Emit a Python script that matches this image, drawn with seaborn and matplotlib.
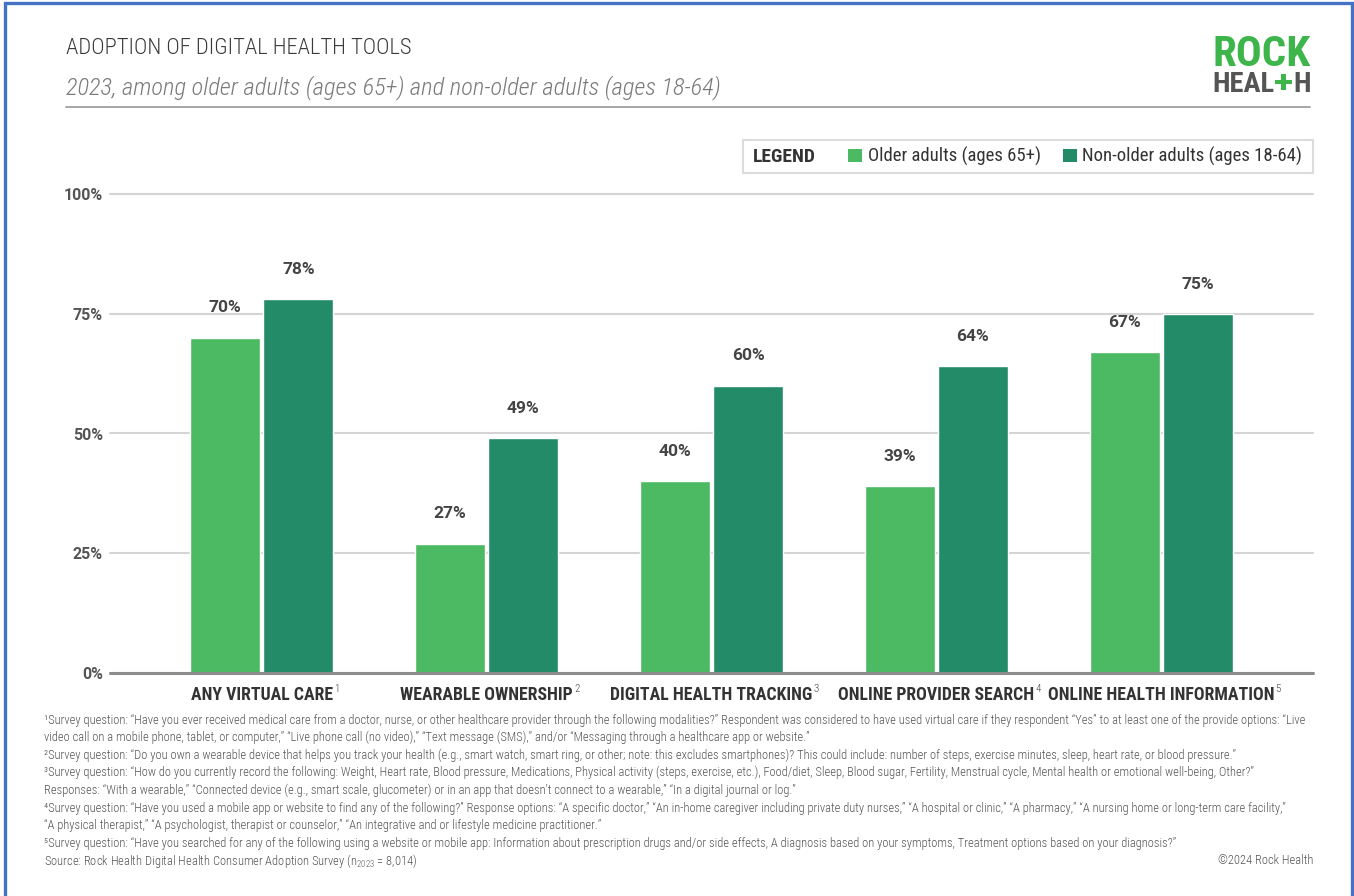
import matplotlib
matplotlib.use("Agg")
import matplotlib.pyplot as plt
import pandas as pd
import seaborn as sns
from matplotlib.patches import Patch, Rectangle
from matplotlib.lines import Line2D

# ---- data -------------------------------------------------------------
categories = [
    "ANY VIRTUAL CARE",
    "WEARABLE OWNERSHIP",
    "DIGITAL HEALTH TRACKING",
    "ONLINE PROVIDER SEARCH",
    "ONLINE HEALTH INFORMATION",
]
note_marks = ["1", "2", "3", "4", "5"]
groups = ["Older adults (ages 65+)", "Non-older adults (ages 18-64)"]
older = [70, 27, 40, 39, 67]
non_older = [78, 49, 60, 64, 75]
yticks = [0, 25, 50, 75, 100]
ytick_labels = ["0%", "25%", "50%", "75%", "100%"]

title = "ADOPTION OF DIGITAL HEALTH TOOLS"
subtitle = "2023, among older adults (ages 65+) and non-older adults (ages 18-64)"
footnotes = [
    "\u00b9Survey question: \u201cHave you ever received medical care from a doctor, nurse, or other healthcare provider through the following modalities?\u201d Respondent was considered to have used virtual care if they respondent \u201cYes\u201d to at least one of the provide options: \u201cLive",
    "video call on a mobile phone, tablet, or computer,\u201d \u201cLive phone call (no video),\u201d \u201cText message (SMS),\u201d and/or \u201cMessaging through a healthcare app or website.\u201d",
    "\u00b2Survey question: \u201cDo you own a wearable device that helps you track your health (e.g., smart watch, smart ring, or other; note: this excludes smartphones)? This could include: number of steps, exercise minutes, sleep, heart rate, or blood pressure.\u201d",
    "\u00b3Survey question: \u201cHow do you currently record the following: Weight, Heart rate, Blood pressure, Medications, Physical activity (steps, exercise, etc.), Food/diet, Sleep, Blood sugar, Fertility, Menstrual cycle, Mental health or emotional well-being, Other?\u201d",
    "Responses: \u201cWith a wearable,\u201d \u201cConnected device (e.g., smart scale, glucometer) or in an app that doesn\u2019t connect to a wearable,\u201d \u201cIn a digital journal or log.\u201d",
    "\u2074Survey question: \u201cHave you used a mobile app or website to find any of the following?\u201d Response options: \u201cA specific doctor,\u201d \u201cAn in-home caregiver including private duty nurses,\u201d \u201cA hospital or clinic,\u201d \u201cA pharmacy,\u201d \u201cA nursing home or long-term care facility,\u201d",
    "\u201cA physical therapist,\u201d \u201cA psychologist, therapist or counselor,\u201d \u201cAn integrative and or lifestyle medicine practitioner.\u201d",
    "\u2075Survey question: \u201cHave you searched for any of the following using a website or mobile app: Information about prescription drugs and/or side effects, A diagnosis based on your symptoms, Treatment options based on your diagnosis?\u201d",
    "Source: Rock Health Digital Health Consumer Adoption Survey (n$_{2023}$ = 8,014)",
]
copyright_text = "\u00a92024 Rock Health"

# ---- style ------------------------------------------------------------
LIGHT = "#4cb963"
DARK = "#238b67"
LOGO_GREEN = "#3db54a"
LOGO_GRAY = "#555555"
W, H = 1354, 896

sns.set_theme(style="white")
COND = ["Roboto Condensed", "Liberation Sans Narrow", "Roboto", "DejaVu Sans"]
plt.rcParams["font.family"] = ["Roboto", "DejaVu Sans"]
plt.rcParams["mathtext.default"] = "regular"


def fx(x):
    return x / W


def fy(y):
    return 1 - y / H


fig = plt.figure(figsize=(W / 100, H / 100), dpi=100)
fig.patch.set_facecolor("white")
ax = fig.add_axes([fx(110), fy(673), 1203 / W, 479 / H])

df = pd.DataFrame({
    "category": categories * 2,
    "group": [groups[0]] * len(categories) + [groups[1]] * len(categories),
    "value": older + non_older,
})

sns.barplot(
    data=df, x="category", y="value", hue="group",
    order=categories, hue_order=groups, palette=[LIGHT, DARK],
    width=0.65, gap=0.04, saturation=1, errorbar=None,
    legend=False, ax=ax,
)

for cont in ax.containers:
    ax.bar_label(cont, labels=[f"{v:.0f}%" for v in cont.datavalues],
                 padding=16, fontsize=12.5, fontweight="bold", color="#444444",
                 family=["Roboto", "DejaVu Sans"])

ax.set_xlim(-0.675, len(categories) - 1 + 0.675)
ax.set_ylim(0, 100)
ax.set_yticks(yticks, ytick_labels)
ax.set_xticks(range(len(categories)), categories)
ax.set_xlabel("")
ax.set_ylabel("")
for s in ax.spines.values():
    s.set_visible(False)

ax.tick_params(axis="y", length=0, pad=5, labelsize=11.5, labelcolor="#555555")
ax.tick_params(axis="x", length=0, pad=9, labelsize=13, labelcolor="#333333")
for lab in ax.get_yticklabels():
    lab.set_fontweight("bold")
for lab in ax.get_xticklabels():
    lab.set_fontweight("bold")
    lab.set_family(COND)

ax.yaxis.grid(True, color="#d4d4d4", lw=1.5)
ax.set_axisbelow(True)
for gl in ax.get_ygridlines():
    gl.set_clip_on(False)
ax.axhline(0, color="#8c8c8c", lw=2.2, zorder=5, clip_on=False)

# ---- titles -----------------------------------------------------------
t_title = fig.text(fx(66), fy(48), title, family=COND, weight="light",
                   size=15, color="#3a3a3a", va="center", ha="left")
t_sub = fig.text(fx(66), fy(88), subtitle, family=COND, weight="light",
                 style="italic", size=14.5, color="#7a7a7a", va="center", ha="left")
fig.add_artist(Line2D([fx(66), fx(1310)], [fy(107), fy(107)],
                      color="#a6a6a6", lw=1.4, transform=fig.transFigure))

# ---- logo -------------------------------------------------------------
t_rock = fig.text(fx(1311), fy(66), "ROCK", family=COND, weight="bold",
                  size=33, color=LOGO_GREEN, ha="right", va="baseline")
t_heal = fig.text(fx(1212), fy(92), "HEAL", family=COND, weight="bold",
                  size=22, color=LOGO_GRAY, ha="left", va="baseline")
t_h = fig.text(fx(1290), fy(92), "H", family=COND, weight="bold",
               size=22, color=LOGO_GRAY, ha="right", va="baseline")

# ---- legend -----------------------------------------------------------
fig.add_artist(Rectangle((fx(743), fy(173)), 570 / W, 33 / H, transform=fig.transFigure,
                         fill=False, ec="#dcdcdc", lw=1.5))
fig.text(fx(753), fy(156.5), "LEGEND", family=COND, weight="bold", size=14,
         color="#333333", ha="left", va="center")
handles = [Patch(facecolor=LIGHT, edgecolor="none"), Patch(facecolor=DARK, edgecolor="none")]
leg = fig.legend(handles, groups, loc="center right", bbox_to_anchor=(fx(1302), fy(156.5)),
                 ncol=2, frameon=False, handlelength=0.72, handleheight=0.72,
                 handletextpad=0.3, columnspacing=1.2, borderpad=0, borderaxespad=0,
                 prop={"family": COND, "size": 13.5})
for t in leg.get_texts():
    t.set_color("#333333")

# ---- footnotes --------------------------------------------------------
note_y = [720 + 17.6 * i for i in range(len(footnotes))]
note_texts = [fig.text(fx(44), fy(y), s, family=COND, weight="light", size=8,
                       color="#555555", ha="left", va="center")
              for s, y in zip(footnotes, note_y)]
t_copy = fig.text(fx(1313), fy(note_y[-1]), copyright_text, family=COND, weight="light",
                  size=8, color="#555555", ha="right", va="center")

# ---- frame ------------------------------------------------------------
fig.add_artist(Line2D([fx(5), fx(5), fx(1352), fx(1352)], [fy(896), fy(3), fy(3), fy(896)],
                      color="#4472c4", lw=2.4, transform=fig.transFigure,
                      solid_joinstyle="miter"))

# ---- size text to the layout -------------------------------------------
fig.canvas.draw()
r = fig.canvas.get_renderer()


def scale_to(artist, target):
    w = artist.get_window_extent(r).width
    return artist.get_fontsize() * target / w


t_title.set_fontsize(scale_to(t_title, 345))
t_sub.set_fontsize(scale_to(t_sub, 654))
t_rock.set_fontsize(scale_to(t_rock, 98))
note_size = scale_to(note_texts[0], 1266)
for t in note_texts:
    t.set_fontsize(note_size)
t_copy.set_fontsize(note_size)
xl_size = scale_to(ax.get_xticklabels()[0], 142)
for lab in ax.get_xticklabels():
    lab.set_fontsize(xl_size)

# second logo line: HEAL + cross + H spanning the same width as ROCK
heal_px = t_heal.get_fontsize() * 100 / 72
cap = 0.711 * heal_px
w_heal = t_heal.get_window_extent(r).width
w_h = t_h.get_window_extent(r).width
cross = cap * 0.82
total = w_heal + 1 + cross + 1 + w_h
k = 98 / total
t_heal.set_fontsize(t_heal.get_fontsize() * k)
t_h.set_fontsize(t_h.get_fontsize() * k)
t_h.set_x(fx(1311))
cap *= k
cross *= k
cx0 = 1212 + w_heal * k + 1
cy = 92 - cap / 2
bar = cross * 0.27
fig.add_artist(Rectangle((fx(cx0), fy(cy + bar / 2)), cross / W, bar / H,
                         transform=fig.transFigure, color=LOGO_GREEN, lw=0))
fig.add_artist(Rectangle((fx(cx0 + cross / 2 - bar / 2), fy(cy + cross / 2)), bar / W, cross / H,
                         transform=fig.transFigure, color=LOGO_GREEN, lw=0))

fig.canvas.draw()

# footnote markers on the category labels
for lab, mark in zip(ax.get_xticklabels(), note_marks):
    bb = lab.get_window_extent(r)
    fig.text((bb.x1 + 1) / W, (bb.y1 + 2) / H, mark, family=COND, weight="light",
             size=xl_size * 0.62, color="#444444", ha="left", va="top")

fig.savefig("out.png", dpi=100, facecolor="white")
